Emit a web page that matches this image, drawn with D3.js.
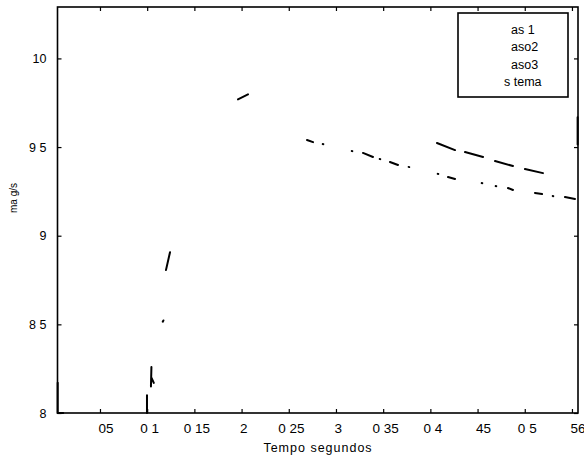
<!DOCTYPE html>
<html lang="en">
<head>
<meta charset="UTF-8">
<title>Tempo segundos</title>
<script src="https://d3js.org/d3.v7.min.js"></script>
<style>
    body { margin: 0; background: white; }
    svg { display: block; }
    text { font-family: 'Liberation Sans', Arial, sans-serif; fill: #000; }
    .frame { fill: none; stroke: #000; stroke-width: 1.6px; }
    .series { fill: none; stroke: #000; stroke-width: 2px; stroke-linecap: round; }
</style>
</head>
<body>
<svg width="584" height="459"></svg>
<script>
// tick values and the labels as they survive in the scan
const xTicks = [0.05, 0.1, 0.15, 0.2, 0.25, 0.3, 0.35, 0.4, 0.45, 0.5, 0.55];
const xTickLabels = ['05', '0 1', '0 15', '2', '0 25', '3', '0 35', '0 4', '45', '0 5', '56'];
const yTicks = [8, 8.5, 9, 9.5, 10];
const yTickLabels = ['8', '8 5', '9', '9 5', '10'];
const legendLabels = ['as 1', 'aso2', 'aso3', 's tema'];

// visible pieces of each curve, [time, value]; null = gap in the scan
const caso1 = [
    [0.0998, 8.0], [0.0998, 8.10], null,
    [0.1040, 8.15], [0.1045, 8.26], null,
    [0.1045, 8.20], [0.1070, 8.17], null,
    [0.1165, 8.515], [0.1172, 8.522], null,
    [0.1199, 8.806], [0.1242, 8.907], null,
    [0.1962, 9.769], [0.2068, 9.797]
];
const caso2 = [
    [0.4070, 9.523], [0.4261, 9.483], null,
    [0.4367, 9.472], [0.4558, 9.444], null,
    [0.4685, 9.421], [0.4875, 9.393], null,
    [0.5002, 9.376], [0.5193, 9.353]
];
const caso3 = [
    [0.2693, 9.540], [0.2757, 9.528], null,
    [0.2860, 9.517], [0.2866, 9.516], null,
    [0.3167, 9.478], [0.3173, 9.477], null,
    [0.3286, 9.467], [0.3392, 9.444], null,
    [0.3463, 9.433], [0.3469, 9.432], null,
    [0.3572, 9.416], [0.3657, 9.399], null,
    [0.3770, 9.388], [0.3776, 9.387], null,
    [0.4078, 9.349], [0.4084, 9.348], null,
    [0.4187, 9.331], [0.4261, 9.320], null,
    [0.4544, 9.297], [0.4550, 9.296], null,
    [0.4692, 9.280], [0.4698, 9.279], null,
    [0.4822, 9.269], [0.4875, 9.258], null,
    [0.5108, 9.241], [0.5183, 9.235], null,
    [0.5296, 9.224], [0.5302, 9.223], null,
    [0.5426, 9.218], [0.5532, 9.207]
];
const sistema = [
    [0.0052, 8.0], [0.0052, 8.17], null,
    [0.0052, 8.0], [0.0110, 8.0], null,
    [0.5560, 9.668], [0.5560, 9.515]
];
const seriesList = [caso1, caso2, caso3, sistema];

const svg = d3.select('svg');

const x = d3.scaleLinear().domain([0.005, 0.5564]).range([57.5, 578]);
const y = d3.scaleLinear().domain([8, 10.29]).range([413, 7]);

// bottom axis, ticks pointing in
const xAxis = svg.append('g')
    .attr('transform', `translate(0,${y(8)})`)
    .call(d3.axisBottom(x).tickValues(xTicks).tickSize(-4).tickPadding(10)
        .tickFormat((d, i) => xTickLabels[i]));
xAxis.selectAll('text')
    .style('font-size', '13.5px')
    .attr('text-anchor', d => xTickLabels[xTicks.indexOf(d)].includes(' ') ? 'middle' : 'start')
    .attr('x', d => xTickLabels[xTicks.indexOf(d)].includes(' ') ? 2 : -2);

// top axis, ticks only
svg.append('g')
    .attr('transform', `translate(0,${y(10.29)})`)
    .call(d3.axisTop(x).tickValues(xTicks).tickSize(-4).tickFormat(''));

// left axis
const yAxis = svg.append('g')
    .attr('transform', `translate(${x(0.005)},0)`)
    .call(d3.axisLeft(y).tickValues(yTicks).tickSize(-4).tickPadding(11)
        .tickFormat((d, i) => yTickLabels[i]));
yAxis.selectAll('text').style('font-size', '12.5px');

// right axis, ticks only
svg.append('g')
    .attr('transform', `translate(${x(0.5564)},0)`)
    .call(d3.axisRight(y).tickValues(yTicks).tickSize(-4).tickFormat(''));

svg.selectAll('.domain').remove();
svg.selectAll('.tick line').attr('stroke', '#000').attr('stroke-width', 1.2);

svg.append('rect')
    .attr('class', 'frame')
    .attr('x', x(0.005))
    .attr('y', y(10.29))
    .attr('width', x(0.5564) - x(0.005))
    .attr('height', y(8) - y(10.29));

// curves
const line = d3.line()
    .defined(d => d !== null)
    .x(d => x(d[0]))
    .y(d => y(d[1]));

svg.append('g')
    .selectAll('path')
    .data(seriesList)
    .enter().append('path')
    .attr('class', 'series')
    .attr('d', d => line(d));

// legend
const legend = svg.append('g').attr('transform', 'translate(458,13)');
legend.append('rect')
    .attr('fill', 'white')
    .attr('class', 'frame')
    .attr('width', 110)
    .attr('height', 84);
legend.selectAll('text')
    .data(legendLabels)
    .enter().append('text')
    .attr('x', (d, i) => i === 3 ? 46 : 53)
    .attr('y', (d, i) => 21 + i * 17.3)
    .style('font-size', '12.5px')
    .text(d => d);

// axis titles
svg.append('text')
    .attr('x', 318)
    .attr('y', 452)
    .attr('text-anchor', 'middle')
    .style('font-size', '12.5px')
    .style('letter-spacing', '1px')
    .text('Tempo segundos');

svg.append('text')
    .attr('transform', 'translate(17,198) rotate(-90)')
    .attr('text-anchor', 'middle')
    .style('font-size', '10px')
    .text('ma g/s');
</script>
</body>
</html>
